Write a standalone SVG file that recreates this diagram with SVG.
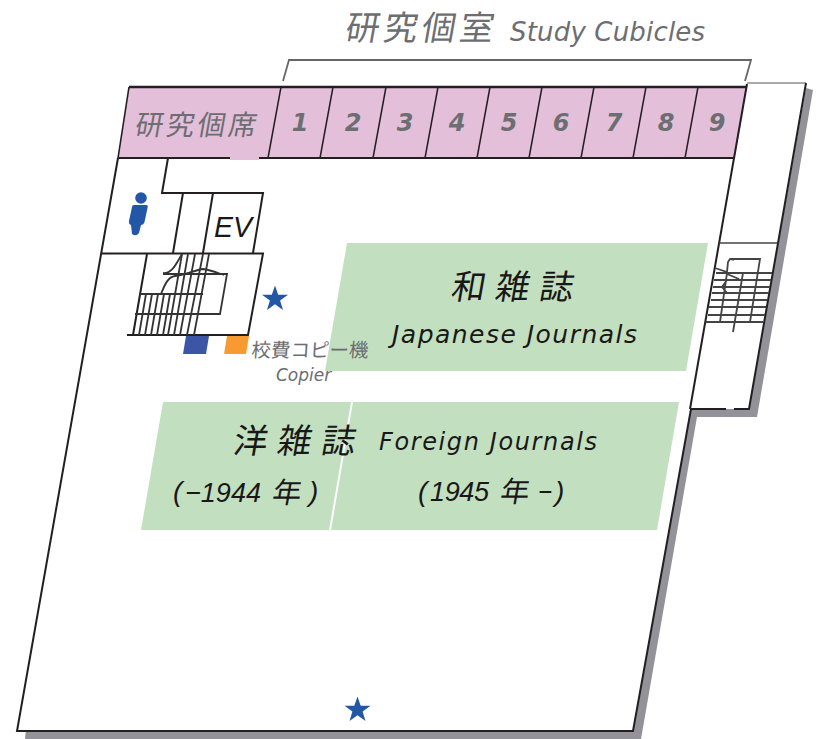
<svg xmlns="http://www.w3.org/2000/svg" width="826" height="739" viewBox="0 0 826 739">
<defs>
<style>
.ln{fill:none;stroke:#231f20;stroke-width:2}
.st{fill:none;stroke:#333;stroke-width:1.8}
.cj{font-family:"Noto Sans CJK JP","Liberation Sans",sans-serif}
.la{font-family:"DejaVu Sans","Noto Sans CJK JP",sans-serif;font-style:italic}
.li{font-family:"Liberation Sans","Noto Sans CJK JP",sans-serif;font-style:italic}
.gr{fill:#6d6e71}
.dk{fill:#1a1718}
.green{fill:#c2e0c0}
.star{fill:#2257a8}
</style>
<polygon id="star" points="0,-13.5 3.2,-4.2 13,-4.2 5.1,1.6 8,11 0,5.3 -8,11 -5.1,1.6 -13,-4.2 -3.2,-4.2"/>
</defs>
<rect width="826" height="739" fill="#fff"/>
<g id="shadow">
<path d="M813,90 L757,417 L697,417 L641,739 L25,739 L26,729 L633,729 L690,409 L749,409 L806,88 Z" fill="#929298"/>
</g>
<g id="floor">
<path d="M129,87 L747,87 L747,83 L806,83 L749,409 L691,409 L633,731 L17,731 Z" fill="#fff"/>
</g>
<g id="cubicles">
<polygon points="129,87 747,87 735,158 118,158" fill="#e3bfda"/>
<rect x="230" y="157" width="29" height="3" fill="#e3bfda"/>
</g>
<g id="areas">
<polygon class="green" points="347,243 708,243 686,371 325,371"/>
<polygon class="green" points="163,402 351,402 329,530 141,530"/>
<polygon class="green" points="353,402 679,402 657,530 331,530"/>
<polygon points="186,336 209,336 206,354 183,354" fill="#3b56a5"/>
<polygon points="227,336 249,336 246,354 224,354" fill="#f79a30"/>
</g>
<g id="walls">
<path d="M118,158 L17,731 L633,731 L691,409" class="ln"/>
<path d="M129,87 L118,158" class="ln" style="stroke-width:1.6"/>
<path d="M129,87 L747,87" class="ln" style="stroke-width:2.6"/>
<path d="M118,158 L230,158 M259,158 L735,158" class="ln" style="stroke-width:2.2"/>
<path d="M747,83 L806,83" fill="none" stroke="#555" stroke-width="1.2"/>
<path d="M806,83 L749,409 L734,409 M726,409 L691,409" class="ln"/>
<path d="M747,84 L690,409" class="ln"/>
<path d="M719,243 L777,243" fill="none" stroke="#444" stroke-width="1.6"/>
<path d="M281,87 L268,158 M333,87 L320,158 M386,87 L373,158 M438,87 L425,158 M490,87 L477,158 M542,87 L529,158 M594,87 L581,158 M646,87 L633,158 M698,87 L685,158" class="ln" style="stroke-width:1.5"/>
<path d="M168,158 L162,193 L263,193 L253,253 M183,193 L173,253 M213,193 L203,253 M102,253.5 L263,253.5 L248,335 L127,335 M147,254 L133,335" class="ln"/>
</g>
<g id="stairs-left">
<path class="st" d="M140,294 L203,294 M135,314 L220,314 L227,274 L163,274 M146,294 L139,335 M152,294 L145,335 M158,294 L151,335 M164,294 L157,335 M170,294 L163,335 M182,254 L168,335 M188,254 L174,335 M195,254 L180,335 M203,254 L187,335 M209,254 L194,335"/>
<path class="st" d="M163,273 C172,274 176,264 182,254 M161,294 C165,284 168,277 175,276 C185,275 195,270 203,269 C210,270 215,272 224,275"/>
</g>
<g id="stairs-right">
<path d="M716,273 L772,273 M714,280 L771,280 M713,287 L770,287 M712,293 L769,293 M711,300 L767,300 M709,307 L766,307 M708,315 L765,315 M706,322 L763,322" fill="none" stroke="#444" stroke-width="1.8"/>
<path d="M730,259 L760,259 L750,322 M743,273 L733,332 M727,273 L720,322 M715,268 L727,272 L728,262 L730,259 L734,260 M727,274 L739,279 M727,280 L722,287 L727,293" fill="none" stroke="#444" stroke-width="1.8"/>
</g>
<g id="bracket">
<path d="M283,81 L289,60 L751,60 L745,81" fill="none" stroke="#666" stroke-width="1.8"/>
</g>
<g id="person">
<circle cx="141" cy="198" r="5.8" fill="#2257a8"/>
<path d="M134,205 L146,205 Q148.500,205 147.500,208 L144.500,222 Q143.500,225 141,225 L139,233 Q136,237 132,234 L131,225 Q128.500,224 129,221 L132,207 Q132,205 134,205 Z" fill="#2257a8"/>
</g>
<g id="stars">
<use href="#star" class="star" x="275" y="299"/>
<use href="#star" class="star" x="357.500" y="710"/>
</g>
<g id="labels">
<text class="cj gr" transform="translate(344,40) skewX(-10)" font-size="34" letter-spacing="4">研究個室</text>
<text class="la gr" x="510" y="41" font-size="26" textLength="195" lengthAdjust="spacing">Study Cubicles</text>
<text class="cj gr" transform="translate(134,135) skewX(-10)" font-size="28" letter-spacing="3">研究個席</text>
<g class="la gr" font-size="24" font-weight="700" text-anchor="middle">
<text x="300" y="131">1</text><text x="353" y="131">2</text><text x="405" y="131">3</text><text x="457" y="131">4</text><text x="509" y="131">5</text><text x="561" y="131">6</text><text x="614" y="131">7</text><text x="666" y="131">8</text><text x="717" y="131">9</text>
</g>
<text class="li dk" x="214" y="237" font-size="30" textLength="38" lengthAdjust="spacingAndGlyphs">EV</text>
<text class="cj dk" transform="translate(450,299) skewX(-10)" font-size="34" letter-spacing="10">和雑誌</text>
<text class="la dk" x="392" y="343" font-size="25" textLength="245" lengthAdjust="spacing">Japanese Journals</text>
<text class="cj dk" transform="translate(232,453) skewX(-10)" font-size="34" letter-spacing="10">洋雑誌</text>
<text class="la dk" x="379" y="450" font-size="24" textLength="218" lengthAdjust="spacing">Foreign Journals</text>
<text class="li dk" x="173" y="501" font-size="28">(</text>
<text class="li dk" x="185" y="502" font-size="27" textLength="76" lengthAdjust="spacing">−1944</text>
<text class="cj dk" transform="translate(271,503) skewX(-10)" font-size="29">年</text>
<text class="li dk" x="309" y="501" font-size="28">)</text>
<text class="li dk" x="418" y="501" font-size="28">(</text>
<text class="li dk" x="430" y="501" font-size="27" textLength="59" lengthAdjust="spacing">1945</text>
<text class="cj dk" transform="translate(499,502) skewX(-10)" font-size="29">年</text>
<text class="li dk" x="538" y="501" font-size="27" textLength="14" lengthAdjust="spacingAndGlyphs">−</text>
<text class="li dk" x="555" y="501" font-size="28">)</text>
<text class="cj gr" transform="translate(251,357) skewX(-4)" font-size="19.500">校費コピー機</text>
<text class="la gr" x="276" y="381" font-size="17">Copier</text>
</g>
</svg>
